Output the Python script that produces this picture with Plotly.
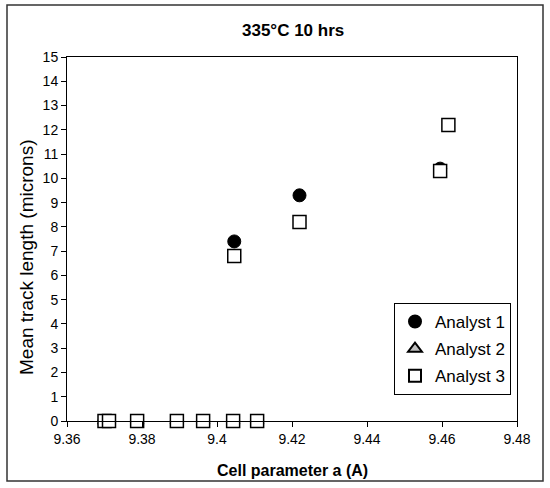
import plotly.graph_objects as go

# ---- data ----
zero_x = [9.3700, 9.3712, 9.3787, 9.3893, 9.3963, 9.4043, 9.4107]
zero_y = [0, 0, 0, 0, 0, 0, 0]

a1_x = zero_x + [9.4046, 9.4220, 9.4595]
a1_y = zero_y + [7.4, 9.3, 10.4]

a2_x = zero_x
a2_y = zero_y

a3_x = zero_x + [9.4046, 9.4220, 9.4595, 9.4617]
a3_y = zero_y + [6.8, 8.2, 10.3, 12.2]

x_ticks = [9.36, 9.38, 9.40, 9.42, 9.44, 9.46, 9.48]
x_tick_labels = ["9.36", "9.38", "9.4", "9.42", "9.44", "9.46", "9.48"]
y_ticks = list(range(0, 16))

FONT = "Liberation Sans, Arial, sans-serif"

fig = go.Figure()
fig.add_trace(go.Scatter(
    x=a1_x, y=a1_y, mode="markers", name="Analyst 1", legendgroup="a1",
    cliponaxis=False,
    marker=dict(symbol="circle", size=13, color="black",
                line=dict(color="black", width=1)),
))
fig.add_trace(go.Scatter(
    x=a2_x, y=a2_y, mode="markers", name="Analyst 2", legendgroup="a2",
    cliponaxis=False,
    marker=dict(symbol="triangle-up", size=12, color="#c0c0c0",
                line=dict(color="black", width=1)),
))
fig.add_trace(go.Scatter(
    x=a3_x, y=a3_y, mode="markers", name="Analyst 3", legendgroup="a3",
    cliponaxis=False,
    marker=dict(symbol="square", size=13, color="white",
                line=dict(color="black", width=1.5)),
))

L, R, T, B = 67, 33, 57, 67
W, H = 550, 488
pw, ph = W - L - R, H - T - B

def px_x(p):
    return (p - L) / pw

def px_y(p):
    return (H - B - p) / ph

fig.update_layout(
    width=W, height=H,
    margin=dict(l=L, r=R, t=T, b=B),
    paper_bgcolor="white", plot_bgcolor="white",
    font=dict(family=FONT, size=14, color="black"),
    showlegend=True,
    legend=dict(
        x=px_x(394), y=px_y(303), xanchor="left", yanchor="top",
        bgcolor="white", bordercolor="black", borderwidth=1,
        font=dict(family=FONT, size=17, color="black"),
        tracegroupgap=2, itemsizing="constant", itemwidth=30,
    ),
    xaxis=dict(
        range=[9.36, 9.48], tickvals=x_ticks, ticktext=x_tick_labels,
        showgrid=False, zeroline=False, showline=True, linecolor="black",
        linewidth=1, mirror=True, ticks="outside", ticklen=5,
        tickcolor="black", tickfont=dict(size=14),
    ),
    yaxis=dict(
        range=[0, 15], tickvals=y_ticks,
        showgrid=False, zeroline=False, showline=True, linecolor="black",
        linewidth=1, mirror=True, ticks="outside", ticklen=5,
        tickcolor="black", tickfont=dict(size=14),
    ),
    shapes=[dict(
        type="rect", xref="paper", yref="paper",
        x0=px_x(7), x1=px_x(543), y0=px_y(481), y1=px_y(5),
        line=dict(color="#333333", width=1.5), fillcolor="rgba(0,0,0,0)",
        layer="below",
    )],
    annotations=[
        dict(text="<b>335°C 10 hrs</b>", xref="paper", yref="paper",
             x=px_x(293), y=px_y(30), showarrow=False,
             xanchor="center", yanchor="middle",
             font=dict(size=17, family=FONT)),
        dict(text="<b>Cell parameter a (A)</b>", xref="paper", yref="paper",
             x=px_x(292), y=px_y(470), showarrow=False,
             xanchor="center", yanchor="middle",
             font=dict(size=16, family=FONT)),
        dict(text="Mean track length (microns)", xref="paper", yref="paper",
             x=px_x(26), y=px_y(258), showarrow=False, textangle=-90,
             xanchor="center", yanchor="middle",
             font=dict(size=19, family=FONT)),
    ],
)

fig.write_html("out.html")
